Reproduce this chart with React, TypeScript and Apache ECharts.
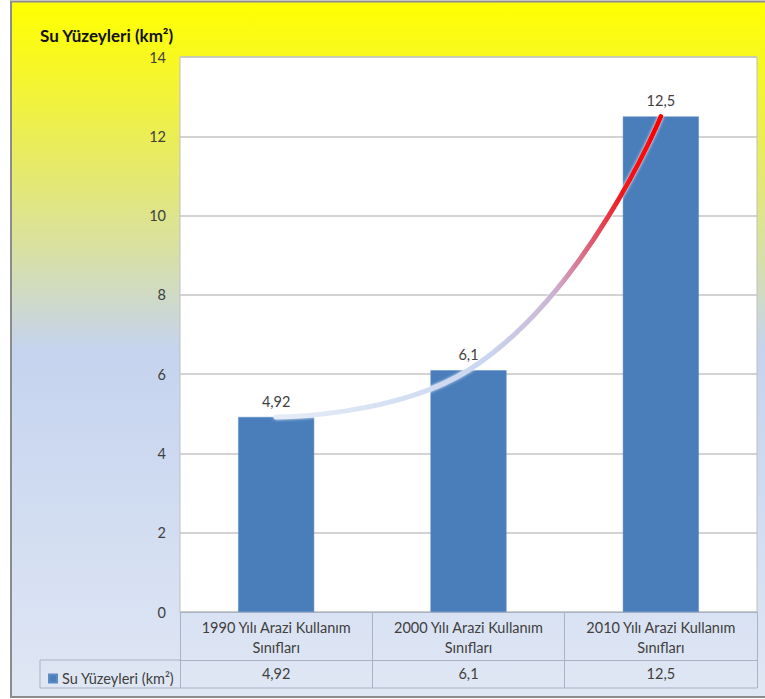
import React, { useEffect, useRef } from "react";
import * as echarts from "echarts";

const titleText = "Su Yüzeyleri (km²)";
const seriesName = "Su Yüzeyleri (km²)";
const categories = [
  "1990 Yılı Arazi Kullanım Sınıfları",
  "2000 Yılı Arazi Kullanım Sınıfları",
  "2010 Yılı Arazi Kullanım Sınıfları",
];
const values = [4.92, 6.1, 12.5];
const yMin = 0;
const yMax = 14;
const yInterval = 2;

const fmt = (v: number) => String(v).replace(".", ",");
const wrapLast = (s: string) => {
  const i = s.lastIndexOf(" ");
  return i > 0 ? s.slice(0, i) + "\n" + s.slice(i + 1) : s;
};
const FONT = "Lato, 'Open Sans', sans-serif";
const TXT = "#404040";
const TABLE = "#a9b3c6";

export default function App() {
  const ref = useRef<HTMLDivElement>(null);
  useEffect(() => {
    if (!ref.current) return;
    const chart = echarts.init(ref.current, null, { renderer: "svg" });
    chart.setOption({
      animation: false,
      textStyle: { fontFamily: FONT },
      title: {
        text: titleText,
        left: 35,
        top: 22,
        textStyle: { fontSize: 17, fontWeight: "bold", color: "#111", fontFamily: FONT },
      },
      legend: {
        left: 43,
        top: 666,
        icon: "rect",
        itemWidth: 8,
        itemHeight: 8,
        itemGap: 4,
        data: [seriesName],
        textStyle: { fontSize: 14.5, color: TXT, fontFamily: FONT },
      },
      grid: {
        left: 180,
        top: 57,
        width: 577,
        height: 555,
        show: true,
        backgroundColor: "#ffffff",
        borderColor: "#bfbfbf",
        borderWidth: 1,
      },
      xAxis: [
        {
          type: "category",
          data: categories,
          position: "bottom",
          axisLine: { show: true, lineStyle: { color: TABLE, width: 1 } },
          axisTick: { show: true, length: 76, interval: 0, lineStyle: { color: TABLE, width: 1 } },
          axisLabel: {
            interval: 0,
            lineHeight: 20,
            margin: 5,
            fontSize: 14.5,
            color: TXT,
            fontFamily: FONT,
            formatter: (v: string) => wrapLast(v),
          },
        },
        {
          type: "category",
          data: categories,
          position: "bottom",
          offset: 48,
          axisLine: { show: true, lineStyle: { color: TABLE, width: 1 } },
          axisTick: { show: true, length: 28, interval: 0, lineStyle: { color: TABLE, width: 1 } },
          axisLabel: {
            interval: 0,
            margin: 6,
            fontSize: 14.5,
            color: TXT,
            fontFamily: FONT,
            formatter: (_v: string, i: number) => fmt(values[i]),
          },
        },
      ],
      yAxis: {
        type: "value",
        min: yMin,
        max: yMax,
        interval: yInterval,
        axisLine: { show: false },
        axisTick: { show: false },
        axisLabel: { margin: 14, fontSize: 14.5, color: TXT, fontFamily: FONT },
        splitLine: { show: true, lineStyle: { color: "#c4c4c4", width: 1.5 } },
      },
      series: [
        {
          name: seriesName,
          type: "bar",
          xAxisIndex: 0,
          data: values,
          barWidth: 76,
          itemStyle: { color: "#4a7ebb", borderColor: "#5b8ac4", borderWidth: 0.5 },
          label: {
            show: true,
            position: "top",
            distance: 8,
            fontSize: 14.5,
            color: TXT,
            fontFamily: FONT,
            formatter: (p: any) => fmt(p.value),
          },
          z: 2,
        },
        {
          name: "curve",
          type: "line",
          xAxisIndex: 0,
          data: values,
          smooth: 0.5,
          symbol: "none",
          silent: true,
          legendHoverLink: false,
          lineStyle: {
            width: 5,
            cap: "round",
            shadowColor: "rgba(255,255,255,0.9)",
            shadowBlur: 3,
            color: new echarts.graphic.LinearGradient(0, 0, 1, 0, [
              { offset: 0, color: "#e6ecf7" },
              { offset: 0.55, color: "#c9d6f0" },
              { offset: 0.72, color: "#cbb3d2" },
              { offset: 0.82, color: "#e05a72" },
              { offset: 0.9, color: "#f2161c" },
              { offset: 1, color: "#ff0000" },
            ]),
          },
          z: 5,
        },
      ],
      graphic: [
        {
          type: "rect",
          z: -100,
          silent: true,
          shape: { x: 11, y: 1.5, width: 760, height: 695.5 },
          style: {
            stroke: "#8c8c8c",
            lineWidth: 2,
            fill: new echarts.graphic.LinearGradient(0, 0, 0, 1, [
              { offset: 0, color: "#ffff00" },
              { offset: 0.08, color: "#f8f820" },
              { offset: 0.2, color: "#eaed58" },
              { offset: 0.36, color: "#d8e0a4" },
              { offset: 0.5, color: "#c5d3ee" },
              { offset: 0.7, color: "#cfdbf1" },
              { offset: 1, color: "#e0e7f4" },
            ]),
          },
        },
        {
          type: "polyline",
          z: 10,
          silent: true,
          shape: { points: [[180, 660], [40, 660], [40, 688], [757, 688]] },
          style: { stroke: TABLE, lineWidth: 1, fill: "none" },
        },
      ],
    });
    return () => chart.dispose();
  }, []);
  return (
    <div
      ref={ref}
      style={{ position: "absolute", left: 0, top: 0, width: 765, height: 699 }}
    />
  );
}
